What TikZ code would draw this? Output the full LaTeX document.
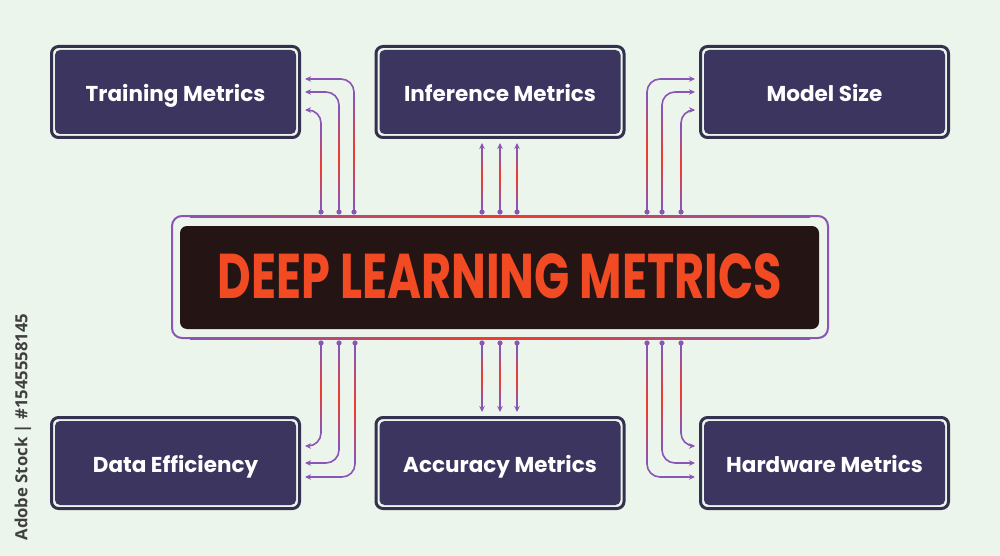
\documentclass[tikz,border=0pt]{standalone}
\usepackage{fontspec}
\setmainfont{Poppins}
\newfontfamily\wmfont{Open Sans}
\usetikzlibrary{arrows.meta,calc}
\definecolor{bg}{HTML}{ECF5EB}
\definecolor{navyline}{HTML}{34304F}
\definecolor{navyfill}{HTML}{3B3560}
\definecolor{purp}{HTML}{8A55B5}
\definecolor{redl}{HTML}{F23B2B}
\definecolor{titlec}{HTML}{F24A22}
\definecolor{darkc}{HTML}{241514}
\definecolor{wmc}{HTML}{3F3F3F}
\tikzset{
  outerbox/.style={draw=navyline, line width=3pt, rounded corners=7pt, minimum width=248pt, minimum height=91pt, inner sep=0pt, fill=bg},
  innerbox/.style={fill=navyfill, rounded corners=5pt, minimum width=241pt, minimum height=84pt, inner sep=0pt, text=white, font=\fontsize{21.5}{24}\selectfont\bfseries, text height=18.5pt, text depth=0pt},
  conn/.style={draw=purp, line width=1.6pt, rounded corners=13pt, -{Stealth[length=6pt,width=5.5pt]}},
  gshade/.style={top color=purp, bottom color=purp, middle color=redl},
}
\begin{document}
\begin{tikzpicture}[x=1pt,y=-1pt]
\fill[bg] (0,0) rectangle (1000,556);
\useasboundingbox (0,0) rectangle (1000,556);

% boxes
\node[outerbox] (tlo) at (175.5,92) {};
\node[innerbox] (tl) at (175.5,92) {Training Metrics};
\node[outerbox] (tmo) at (500,92) {};
\node[innerbox] (tm) at (500,92) {Inference Metrics};
\node[outerbox] (tro) at (824.5,92) {};
\node[innerbox] (tr) at (824.5,92) {Model Size};
\node[outerbox] (blo) at (175.5,463) {};
\node[innerbox] (bl) at (175.5,463) {Data Efficiency};
\node[outerbox] (bmo) at (500,463) {};
\node[innerbox] (bm) at (500,463) {Accuracy Metrics};
\node[outerbox] (bro) at (824.5,463) {};
\node[innerbox] (br) at (824.5,463) {Hardware Metrics};

% central frame
\node[draw=purp, line width=2pt, rounded corners=10pt, minimum width=656pt, minimum height=122pt, inner sep=0pt, fill=bg] (frame) at (500,277) {};
\shade[left color=purp, right color=purp, middle color=redl] (190,215) rectangle (810,217);
\shade[left color=purp, right color=purp, middle color=redl] (190,337) rectangle (810,339);
\node[fill=darkc, rounded corners=7pt, minimum width=639pt, minimum height=103pt, inner sep=0pt] (core) at (499.5,277.5) {};
\node[text=titlec, inner sep=0pt] (title) at (500,276.5) {\resizebox{564pt}{45pt}{\bfseries DEEP LEARNING METRICS}};

% dots
\foreach \n/\x in {a1/321,a2/339,a3/354,b1/482,b2/500,b3/517,c1/647,c2/662,c3/681}{
  \coordinate (\n) at (\x,212);
}
\foreach \n/\x in {d1/321,d2/339,d3/355,e1/482,e2/500,e3/517,f1/647,f2/662,f3/681}{
  \coordinate (\n) at (\x,343);
}

% connectors top
\draw[conn] (a1) |- ([xshift=4pt,yshift=-18pt]tlo.east);
\draw[conn] (a2) |- ([xshift=4pt]tlo.east);
\draw[conn] (a3) |- ([xshift=4pt,yshift=13pt]tlo.east);
\draw[conn] (b1) -- ($(b1 |- tmo.south)+(0,4)$);
\draw[conn] (b2) -- ($(b2 |- tmo.south)+(0,4)$);
\draw[conn] (b3) -- ($(b3 |- tmo.south)+(0,4)$);
\draw[conn] (c1) |- ([xshift=-4pt,yshift=13pt]tro.west);
\draw[conn] (c2) |- ([xshift=-4pt]tro.west);
\draw[conn] (c3) |- ([xshift=-4pt,yshift=-18pt]tro.west);
% connectors bottom
\draw[conn] (d1) |- ([xshift=4pt,yshift=17pt]blo.east);
\draw[conn] (d2) |- ([xshift=4pt]blo.east);
\draw[conn] (d3) |- ([xshift=4pt,yshift=-14pt]blo.east);
\draw[conn] (e1) -- ($(e1 |- bmo.north)+(0,-4)$);
\draw[conn] (e2) -- ($(e2 |- bmo.north)+(0,-4)$);
\draw[conn] (e3) -- ($(e3 |- bmo.north)+(0,-4)$);
\draw[conn] (f3) |- ([xshift=-4pt,yshift=17pt]bro.west);
\draw[conn] (f2) |- ([xshift=-4pt]bro.west);
\draw[conn] (f1) |- ([xshift=-4pt,yshift=-14pt]bro.west);

% gradient overlays on vertical runs
\foreach \x/\ya/\yb in {321/130/205,339/110/205,354/97/205,482/150/205,500/150/205,517/150/205,647/97/205,662/110/205,681/130/205,
  321/350/430,339/350/445,355/350/460,482/350/404,500/350/404,517/350/404,647/350/460,662/350/445,681/350/430}{
  \shade[gshade] (\x-0.8,\ya) rectangle (\x+0.8,\yb);
}

\foreach \n in {a1,a2,a3,b1,b2,b3,c1,c2,c3,d1,d2,d3,e1,e2,e3,f1,f2,f3}{
  \fill[purp] (\n) circle (2.6pt);
}

% side text
\node[rotate=90, text=wmc, inner sep=0pt] (wm) at (23,427) {\resizebox{227pt}{!}{\wmfont\bfseries Adobe Stock | \#1545558145}};
\end{tikzpicture}
\end{document}
